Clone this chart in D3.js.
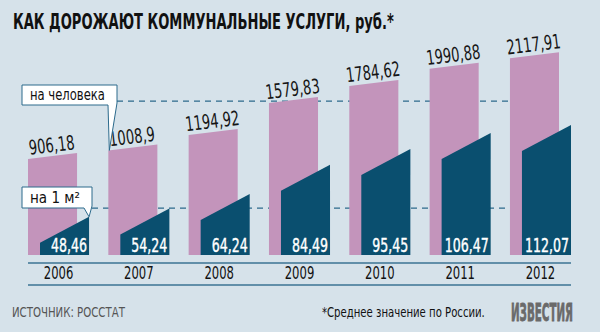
<html>
<head>
<meta charset="utf-8">
<script src="https://d3js.org/d3.v7.min.js"></script>
<style>
body { margin: 0; background: #d6e2ea; }
text { font-family: "DejaVu Sans Condensed", "DejaVu Sans", sans-serif; font-stretch: condensed; }
</style>
</head>
<body>
<svg id="chart" width="600" height="332"></svg>
<script>

var years    = ["2006", "2007", "2008", "2009", "2010", "2011", "2012"]
var perMan   = [906.18, 1008.9, 1194.92, 1579.83, 1784.62, 1990.88, 2117.91]
var perMeter = [48.46, 54.24, 64.24, 84.49, 95.45, 106.47, 112.07]
var refMan   = 1530
var refMeter = 54.5

var fmt = v => String(v).replace(".", ",")

var svg = d3.select("#chart")
var base = 255

svg.append("rect").attr("width", 600).attr("height", 332).attr("fill", "#d6e2ea")

var x = d3.scaleBand().domain(years).range([28, 571]).paddingInner(0.24)
var bw = x.bandwidth(), shift = 12

var yMan = d3.scaleLinear().domain([-320, 2120]).range([base, 52])
var yMeter = d3.scaleLinear().domain([22, 112]).range([base, 125])

// squeeze text horizontally around its anchor
function put(sel, px, py, k, rot) {
	return sel.attr("x", 0).attr("y", 0)
		.attr("transform", (d, i) => {
			var X = typeof px == "function" ? px(d, i) : px
			var Y = typeof py == "function" ? py(d, i) : py
			return `translate(${X},${Y})` + (rot ? ` rotate(${rot})` : "") + ` scale(${k},1)`
		})
}
function fitTo(sel, px, py, w) {
	var len = sel.node().getComputedTextLength()
	return put(sel, px, py, w / len)
}

// dashed guide lines, behind bars
svg.append("line")
	.attr("x1", 117).attr("x2", x("2012") + bw - shift)
	.attr("y1", yMan(refMan)).attr("y2", yMan(refMan))
	.attr("stroke", "#2c6a8c").attr("stroke-width", 1.3).attr("stroke-dasharray", "6,5")
svg.append("line")
	.attr("x1", 92).attr("x2", x("2012") + shift)
	.attr("y1", yMeter(refMeter)).attr("y2", yMeter(refMeter))
	.attr("stroke", "#2c6a8c").attr("stroke-width", 1.3).attr("stroke-dasharray", "6,5")

var data = years.map((d, i) => ({year: d, man: perMan[i], meter: perMeter[i]}))

var g = svg.selectAll("g.bar").data(data).enter().append("g").attr("class", "bar")

g.append("path")
	.attr("fill", "#c394bb")
	.attr("d", d => {
		var x0 = x(d.year), x1 = x0 + bw - shift, t = yMan(d.man)
		return `M${x0},${base}V${t + 6}L${x1},${t}V${base}Z`
	})

g.append("path")
	.attr("fill", "#0a4f6f")
	.attr("d", d => {
		var x0 = x(d.year) + shift, x1 = x(d.year) + bw, t = yMeter(d.meter)
		return `M${x0},${base}V${t + 26}L${x1},${t}V${base}Z`
	})

put(g.append("text")
	.attr("text-anchor", "middle")
	.attr("font-size", 20)
	.attr("fill", "#151515")
	.text(d => fmt(d.man)),
	d => x(d.year) + (bw - shift) / 2, d => yMan(d.man) - 1, 0.73, -7)

put(g.append("text")
	.attr("text-anchor", "end")
	.attr("font-size", 20)
	.attr("fill", "#fff")
	.attr("stroke", "#fff").attr("stroke-width", 0.4)
	.text(d => fmt(d.meter)),
	d => x(d.year) + bw - 2, base - 3, 0.7)

// axis
svg.append("line").attr("x1", 28).attr("x2", 571).attr("y1", 263).attr("y2", 263)
	.attr("stroke", "#3b7393").attr("stroke-width", 1.5)
svg.append("line").attr("x1", 28).attr("x2", 571).attr("y1", 285).attr("y2", 285)
	.attr("stroke", "#3b7393").attr("stroke-width", 1.5)
put(svg.selectAll("text.year").data(years).enter().append("text")
	.attr("class", "year")
	.attr("text-anchor", "middle")
	.attr("font-size", 17)
	.attr("fill", "#111")
	.text(d => d),
	d => x(d) + bw / 2, 279, 0.76)

// callouts
function callout(path, tx, ty, label, w) {
	svg.append("path").attr("d", path)
		.attr("fill", "#fff").attr("stroke", "#2c6a8c").attr("stroke-width", 1)
	fitTo(svg.append("text").attr("font-size", 16).attr("fill", "#111").text(label), tx, ty, w)
}
var t7 = yMan(perMan[1]) + 6
callout(`M22,85H117V103L${x("2007") + 1},${t7}L108,105H22Z`, 30, 100, "на человека", 75)
var t6 = yMeter(perMeter[0])
callout(`M22,187H92V206L${x("2006") + bw},${t6}L84,208H22Z`, 30, 203, "на 1 м²", 50)

// title & footer
fitTo(svg.append("text")
	.attr("font-size", 22).attr("font-weight", "bold").attr("fill", "#111")
	.text("КАК ДОРОЖАЮТ КОММУНАЛЬНЫЕ УСЛУГИ, руб.*"), 13, 29, 381)

fitTo(svg.append("text")
	.attr("font-size", 14).attr("fill", "#555")
	.text("ИСТОЧНИК: РОССТАТ"), 12, 317, 113)
fitTo(svg.append("text")
	.attr("font-size", 14).attr("fill", "#111")
	.text("*Среднее значение по России."), 322, 317, 163)
fitTo(svg.append("text")
	.attr("font-size", 25).attr("font-weight", "bold").attr("fill", "#6a6a6a")
	.attr("stroke", "#6a6a6a").attr("stroke-width", 0.8)
	.text("ИЗВЕСТИЯ"), 511, 321, 62)

</script>
</body>
</html>
